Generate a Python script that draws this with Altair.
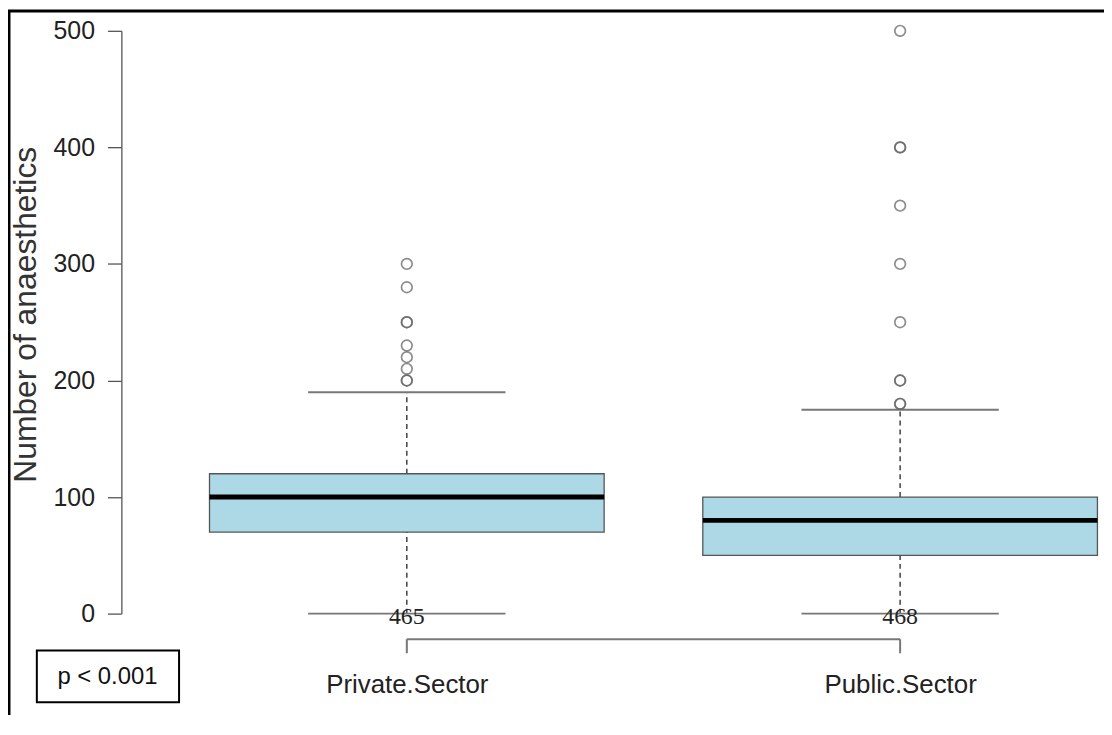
import altair as alt
import pandas as pd

# ---- data ----
categories = ["Private.Sector", "Public.Sector"]
positions = [1, 2]
q1 = [70, 50]
median = [100, 80]
q3 = [120, 100]
whisker_low = [0, 0]
whisker_high = [190, 175]
counts = [465, 468]
outliers_private = [300, 280, 250, 250, 230, 220, 210, 200, 200]
outliers_public = [500, 400, 400, 350, 300, 250, 200, 200, 180, 180]
y_ticks = [0, 100, 200, 300, 400, 500]
p_label = "p < 0.001"
y_title = "Number of anaesthetics"

box_df = pd.DataFrame({
    "cat": categories, "pos": positions, "q1": q1, "median": median, "q3": q3,
    "wlo": whisker_low, "whi": whisker_high, "n": [str(c) for c in counts],
})
out_df = pd.DataFrame({
    "pos": [1] * len(outliers_private) + [2] * len(outliers_public),
    "value": outliers_private + outliers_public,
})
bracket_df = pd.DataFrame({"pos": [positions[0]], "pos2": [positions[1]]})
ends_df = pd.DataFrame({"pos": positions})

W, H = 988, 586
PAD_L, PAD_T = 114, 21
x_dom = [0.42137, 2.4133]

label_expr = " : ".join(
    [f"datum.value == {p} ? '{c}'" for p, c in zip(positions, categories)]
) + " : ''"

xscale = alt.Scale(domain=x_dom, nice=False, zero=False)
yscale = alt.Scale(domain=[0, 500], nice=False, zero=False)

x_axis = alt.Axis(values=positions, labelExpr=label_expr, ticks=False, domain=False,
                  grid=False, title=None, labelFont="Liberation Sans", labelFontSize=26,
                  labelColor="#222", labelPadding=58, labelBaseline="top")
y_axis = alt.Axis(values=y_ticks, grid=False, title=y_title, tickSize=14,
                  tickColor="#555", tickWidth=1.3, domainColor="#555", domainWidth=1.3,
                  labelFont="Liberation Sans", labelFontSize=25, labelColor="#222",
                  labelPadding=13, titleFont="Liberation Sans", titleFontSize=32,
                  titleFontWeight="normal", titleColor="#333", titleAngle=270,
                  titleX=-86, titleY=285, titleAlign="center", titleBaseline="alphabetic")

def X(f):
    return alt.X(f, type="quantitative", scale=xscale, axis=x_axis)

def Y(f):
    return alt.Y(f, type="quantitative", scale=yscale, axis=y_axis)

base = alt.Chart(box_df).transform_calculate(
    blo="datum.pos - 0.4", bhi="datum.pos + 0.4",
    clo="datum.pos - 0.2", chi="datum.pos + 0.2",
)

whisk_up = base.mark_rule(color="#333", strokeWidth=1.4, strokeDash=[5, 4]).encode(
    x=X("pos"), y=Y("q3"), y2="whi:Q")
whisk_dn = base.mark_rule(color="#333", strokeWidth=1.4, strokeDash=[5, 4]).encode(
    x=X("pos"), y=Y("wlo"), y2="q1:Q")
caps_hi = base.mark_rule(color="#777", strokeWidth=2).encode(
    x=X("clo"), x2="chi:Q", y=Y("whi"))
caps_lo = base.mark_rule(color="#777", strokeWidth=2).encode(
    x=X("clo"), x2="chi:Q", y=Y("wlo"))
boxes = base.mark_rect(fill="#ADD8E6", stroke="#555", strokeWidth=1.3).encode(
    x=X("blo"), x2="bhi:Q", y=Y("q1"), y2="q3:Q")
med = base.mark_rule(color="#000", strokeWidth=5).encode(
    x=X("blo"), x2="bhi:Q", y=Y("median"))
ntext = base.mark_text(font="Liberation Serif", fontSize=24, color="#222",
                       baseline="middle", dy=3).encode(
    x=X("pos"), y=Y("wlo"), text="n:N")

pts = alt.Chart(out_df).mark_point(shape="circle", filled=False, size=115,
                                   strokeWidth=1.7, color="#666", opacity=0.75).encode(
    x=X("pos"), y=Y("value"))

bracket_h = alt.Chart(bracket_df).transform_calculate(yb="-22").mark_rule(
    color="#777", strokeWidth=2).encode(x=X("pos"), x2="pos2:Q", y=Y("yb"))
bracket_v = alt.Chart(ends_df).transform_calculate(ya="-22", yb="-34").mark_rule(
    color="#777", strokeWidth=2).encode(x=X("pos"), y=Y("ya"), y2="yb:Q")

# p-value annotation box (pixel placement, below-left of the plot)
pbox = alt.Chart(pd.DataFrame({"t": [p_label]})).mark_rect(
    fill="white", stroke="#000", strokeWidth=2).encode(
    x=alt.value(-85), x2=alt.value(58), y=alt.value(623), y2=alt.value(675))
ptext = alt.Chart(pd.DataFrame({"t": [p_label]})).mark_text(
    font="Liberation Sans", fontSize=24, color="#111", align="center",
    baseline="middle").encode(x=alt.value(-14), y=alt.value(650), text="t:N")

# outer frame (top and left edges, as in the reference)
frame_top = alt.Chart(pd.DataFrame({"t": [0]})).mark_rule(color="#000", strokeWidth=3).encode(
    x=alt.value(-PAD_L), x2=alt.value(W + 10), y=alt.value(-PAD_T + 1))
frame_left = alt.Chart(pd.DataFrame({"t": [0]})).mark_rule(color="#000", strokeWidth=3).encode(
    x=alt.value(-PAD_L + 1), y=alt.value(-PAD_T), y2=alt.value(H + 120))

chart = alt.layer(
    whisk_up, whisk_dn, caps_hi, caps_lo, boxes, med, pts, ntext,
    bracket_h, bracket_v, pbox, ptext, frame_top, frame_left,
).properties(
    width=W, height=H,
    background="white",
    padding={"left": PAD_L, "top": PAD_T, "right": 0, "bottom": 100},
    autosize=alt.AutoSizeParams(type="none"),
).configure_view(strokeWidth=0, strokeOpacity=0)

chart.save("out.html", embed_options={"renderer": "svg", "actions": False})
